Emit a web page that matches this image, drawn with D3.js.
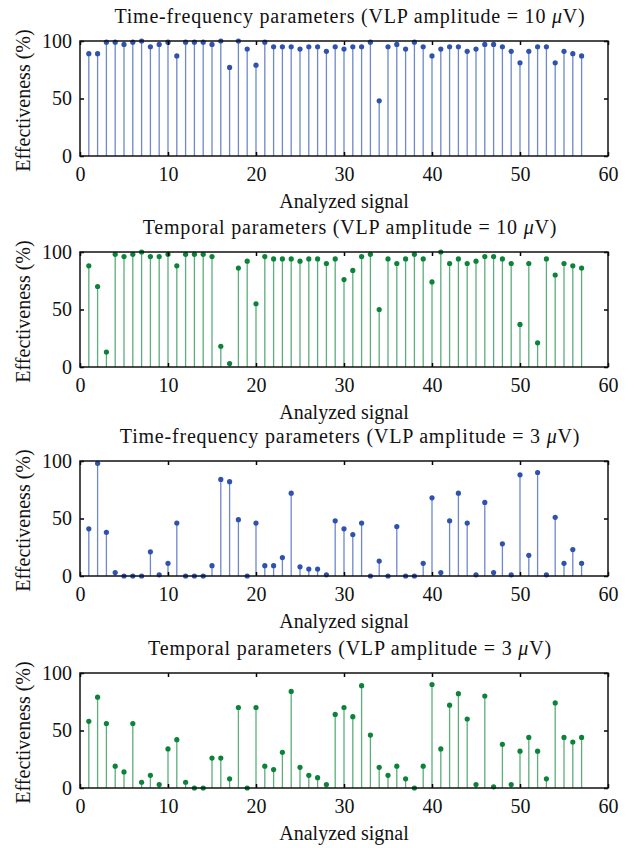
<!DOCTYPE html>
<html>
<head>
<meta charset="utf-8">
<script src="https://cdn.jsdelivr.net/npm/d3@7"></script>
<style>
  body { margin: 0; background: #fff; }
  svg text { font-family: "Liberation Serif", "Times New Roman", serif; fill: #111; }
</style>
</head>
<body>
<div id="chart"></div>
<script>
// signal index 1..57
const signals = d3.range(1, 58);

// effectiveness (%)
const tf10 = [89, 89, 99, 99, 97, 99, 100, 95, 97, 99, 87, 99, 99, 99, 97, 100, 77, 100, 93, 79,
  99, 95, 95, 95, 93, 95, 95, 91, 95, 93, 95, 95, 99, 48, 95, 97, 93, 99, 95, 87,
  93, 95, 95, 91, 93, 97, 97, 95, 91, 81, 91, 95, 95, 81, 91, 89, 87];

const temp10 = [88, 70, 13, 98, 96, 98, 100, 96, 96, 98, 88, 98, 98, 98, 96, 18, 3, 86, 92, 55,
  96, 94, 94, 94, 92, 94, 94, 90, 94, 76, 84, 96, 98, 50, 94, 90, 94, 98, 94, 74,
  100, 90, 94, 90, 92, 96, 96, 94, 90, 37, 90, 21, 94, 80, 90, 88, 86];

const tf3 = [41, 98, 38, 3, 0, 0, 0, 21, 1, 11, 46, 0, 0, 0, 9, 84, 82, 49, 0, 46,
  9, 9, 16, 72, 8, 6, 6, 1, 48, 41, 36, 46, 0, 13, 0, 43, 0, 0, 11, 68,
  3, 48, 72, 46, 1, 64, 3, 28, 1, 88, 18, 90, 1, 51, 11, 23, 11];

const temp3 = [58, 79, 56, 19, 14, 56, 5, 11, 3, 34, 42, 5, 0, 0, 26, 26, 8, 70, 0, 70,
  19, 16, 31, 84, 18, 11, 9, 3, 64, 70, 62, 89, 46, 18, 11, 19, 8, 0, 19, 90,
  34, 72, 82, 60, 3, 80, 1, 38, 3, 32, 44, 32, 8, 74, 44, 40, 44];

const xTicks = [0, 10, 20, 30, 40, 50, 60];
const yTicks = [0, 50, 100];

const blue = { stem: "#6f88cc", dot: "#2e52ad" };
const green = { stem: "#5cae7a", dot: "#0b843a" };

const panels = [
  { top: 41, name: "Time-frequency parameters", amp: "10", values: tf10, col: blue },
  { top: 252, name: "Temporal parameters", amp: "10", values: temp10, col: green },
  { top: 461, name: "Time-frequency parameters", amp: "3", values: tf3, col: blue },
  { top: 673, name: "Temporal parameters", amp: "3", values: temp3, col: green }
];

const W = 634, H = 848;
const left = 80, right = 608, ph = 115;
const fs = '20px';

const svg = d3.select('#chart').append('svg')
  .attr('width', W)
  .attr('height', H);

const x = d3.scaleLinear().domain([0, 60]).range([left, right]);

panels.forEach(function (p) {
  const y = d3.scaleLinear().domain([0, 100]).range([p.top + ph, p.top]);
  const g = svg.append('g');

  // title
  const t = g.append('text')
    .attr('x', (left + right) / 2 + 6)
    .attr('y', p.top - 18)
    .attr('text-anchor', 'middle')
    .style('font-size', fs)
    .style('letter-spacing', '0.8px');
  t.append('tspan').text(p.name + ' (VLP amplitude = ' + p.amp + ' ');
  t.append('tspan').style('font-style', 'italic').text('\u03bc');
  t.append('tspan').text('V)');

  // stems
  g.selectAll('.stem')
    .data(p.values)
    .enter().append('line')
    .attr('class', 'stem')
    .attr('x1', function (d, i) { return x(signals[i]); })
    .attr('x2', function (d, i) { return x(signals[i]); })
    .attr('y1', y(0))
    .attr('y2', function (d) { return y(d); })
    .attr('stroke', p.col.stem)
    .attr('stroke-width', 1.3);

  // dots
  g.selectAll('.dot')
    .data(p.values)
    .enter().append('circle')
    .attr('class', 'dot')
    .attr('cx', function (d, i) { return x(signals[i]); })
    .attr('cy', function (d) { return y(d); })
    .attr('r', 2.6)
    .attr('fill', p.col.dot);

  // axes, ticks pointing inward
  g.append('g')
    .attr('transform', 'translate(0,' + y(0) + ')')
    .call(d3.axisBottom(x).tickValues(xTicks).tickSize(-4).tickPadding(11))
    .call(function (a) { a.select('.domain').remove(); })
    .selectAll('text').style('font-size', fs).attr('fill', '#111');

  g.append('g')
    .attr('transform', 'translate(0,' + y(100) + ')')
    .call(d3.axisTop(x).tickValues(xTicks).tickSize(-4).tickFormat(''))
    .call(function (a) { a.select('.domain').remove(); });

  g.append('g')
    .attr('transform', 'translate(' + left + ',0)')
    .call(d3.axisLeft(y).tickValues(yTicks).tickSize(-4).tickPadding(8))
    .call(function (a) { a.select('.domain').remove(); })
    .selectAll('text').style('font-size', fs).attr('fill', '#111');

  g.append('g')
    .attr('transform', 'translate(' + right + ',0)')
    .call(d3.axisRight(y).tickValues(yTicks).tickSize(-4).tickFormat(''))
    .call(function (a) { a.select('.domain').remove(); });

  g.selectAll('.tick line').attr('stroke', '#000').attr('stroke-width', 1.5);

  // frame
  g.append('rect')
    .attr('x', left).attr('y', p.top)
    .attr('width', right - left).attr('height', ph)
    .attr('fill', 'none')
    .attr('stroke', '#111')
    .attr('stroke-width', 1.5);

  // axis labels
  g.append('text')
    .attr('x', (left + right) / 2)
    .attr('y', p.top + ph + 52)
    .attr('text-anchor', 'middle')
    .style('font-size', fs)
    .text('Analyzed signal');

  g.append('text')
    .attr('transform', 'translate(30,' + (p.top + ph / 2 + 2) + ') rotate(-90)')
    .attr('text-anchor', 'middle')
    .style('font-size', fs)
    .text('Effectiveness (%)');
});
</script>
</body>
</html>
